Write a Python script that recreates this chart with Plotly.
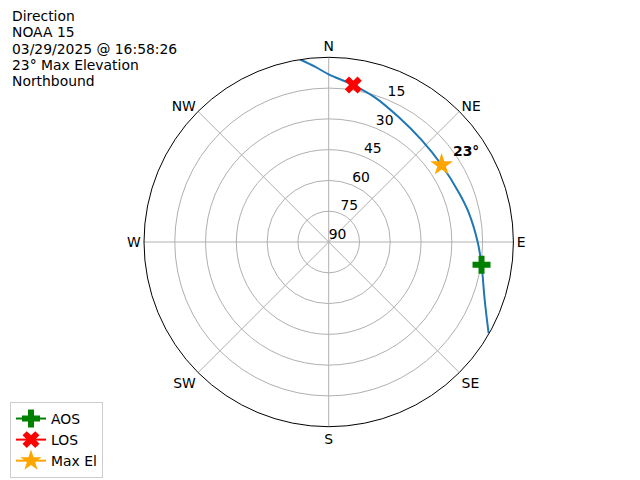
import plotly.graph_objects as go

# Pass track (azimuth deg clockwise from N, elevation deg)
track_az = [351.1, 355.5, 0.0, 8.9, 17.7, 29.1, 42.4, 55.7, 69.5, 78.0, 90.0, 98.5, 110.4, 119.7]
track_el = [0.0, 4.3, 8.3, 12.6, 16.0, 20.2, 22.8, 23.4, 22.1, 20.3, 17.4, 14.7, 8.9, 0.3]

aos_az, aos_el = [98.5], [14.7]
los_az, los_el = [8.9], [12.6]
max_az, max_el = [55.7], [23.4]
max_label = "<b>23°</b>"

dir_ticks = [0, 45, 90, 135, 180, 225, 270, 315]
dir_labels = ["N", "NE", "E", "SE", "S", "SW", "W", "NW"]
el_ticks = [0, 15, 30, 45, 60, 75]
el_labels = ["90", "75", "60", "45", "30", "15"]
el_label_az = 22.5

info_lines = ["Direction", "NOAA 15", "03/29/2025 @ 16:58:26", "23° Max Elevation", "Northbound"]

FONT = "DejaVu Sans"
FS = 13.9
OFF = 8  # page body margin

def r_of(el):
    return [90 - e for e in el]

fig = go.Figure()
fig.add_trace(go.Scatterpolar(r=el_ticks, theta=[el_label_az] * len(el_ticks), mode="text",
                              text=el_labels, textposition="top right",
                              textfont=dict(family=FONT, size=FS, color="black"),
                              showlegend=False, hoverinfo="skip", cliponaxis=False))
fig.add_trace(go.Scatterpolar(r=r_of(track_el), theta=track_az, mode="lines",
                              line=dict(color="#1f77b4", width=2, shape="spline"),
                              showlegend=False, hoverinfo="skip"))
fig.add_trace(go.Scatterpolar(r=r_of(aos_el), theta=aos_az, mode="lines+markers", name="AOS",
                              line=dict(color="green", width=2),
                              marker=dict(symbol="cross", size=15, color="green")))
fig.add_trace(go.Scatterpolar(r=r_of(los_el), theta=los_az, mode="lines+markers", name="LOS",
                              line=dict(color="red", width=2),
                              marker=dict(symbol="x", size=15, color="red")))
fig.add_trace(go.Scatterpolar(r=r_of(max_el), theta=max_az, mode="lines+markers", name="Max El",
                              line=dict(color="orange", width=2),
                              marker=dict(symbol="star", size=17, color="orange")))

cx, cy, rad = 328.7 - OFF, 242.0 - OFF, 184.7
W, H = 640, 480
fig.update_layout(
    width=W, height=H,
    margin=dict(l=0, r=0, t=0, b=0),
    paper_bgcolor="white",
    font=dict(family=FONT, size=FS, color="black"),
    polar=dict(
        domain=dict(x=[(cx - rad) / W, (cx + rad) / W],
                    y=[(H - cy - rad) / H, (H - cy + rad) / H]),
        bgcolor="white",
        angularaxis=dict(rotation=90, direction="clockwise",
                         tickmode="array", tickvals=dir_ticks, ticktext=dir_labels,
                         showline=True, linecolor="black", linewidth=1,
                         gridcolor="#b0b0b0", gridwidth=0.8, ticks="",
                         tickfont=dict(family=FONT, size=FS, color="black")),
        radialaxis=dict(range=[0, 90], tickmode="array", tickvals=el_ticks, ticktext=el_labels,
                        angle=67.5, showticklabels=False, showline=False, ticks="",
                        gridcolor="#b0b0b0", gridwidth=0.8),
    ),
    legend=dict(x=2 / W, y=10 / H, xanchor="left", yanchor="bottom",
                bgcolor="white", bordercolor="#cccccc", borderwidth=1,
                font=dict(family=FONT, size=FS, color="black"), itemwidth=30),
)

for i, line in enumerate(info_lines):
    fig.add_annotation(x=2 / W, y=1 - (8 + 16.3 * i) / H, xref="paper", yref="paper",
                       text=line, showarrow=False, xanchor="left", yanchor="middle",
                       font=dict(family=FONT, size=FS, color="black"))

# Max elevation label next to the star
fig.add_annotation(x=(453 - OFF - 2) / W, y=1 - (151 - OFF) / H, xref="paper", yref="paper",
                   text=max_label, showarrow=False, xanchor="left", yanchor="middle",
                   font=dict(family=FONT, size=FS, color="black"))

fig.write_html("out.html")
